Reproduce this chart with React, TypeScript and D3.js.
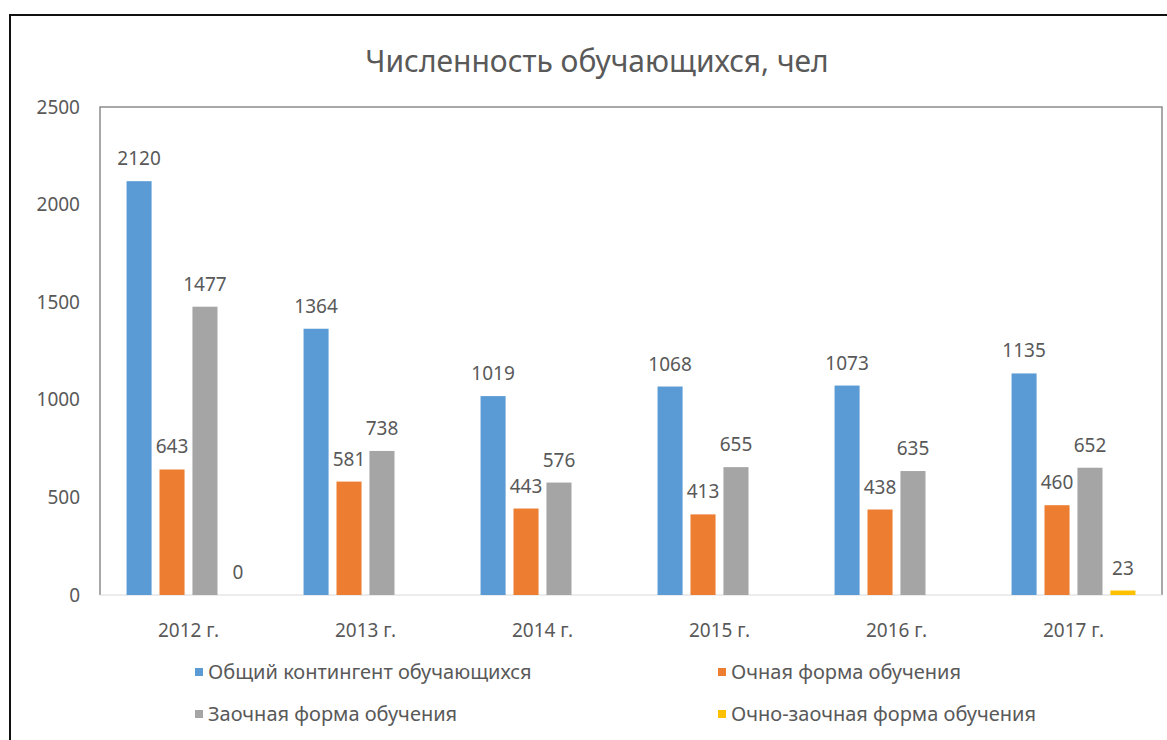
import * as d3 from 'd3'

const categories = ['2012 г.', '2013 г.', '2014 г.', '2015 г.', '2016 г.', '2017 г.']
const seriesNames = [
  'Общий контингент обучающихся',
  'Очная форма обучения',
  'Заочная форма обучения',
  'Очно-заочная форма обучения',
]
const totalValues = [2120, 1364, 1019, 1068, 1073, 1135]
const fullTimeValues = [643, 581, 443, 413, 438, 460]
const extramuralValues = [1477, 738, 576, 655, 635, 652]
const partTimeValues = [0, null, null, null, null, 23]
const yTicks = [0, 500, 1000, 1500, 2000, 2500]

const colors = ['#5b9bd5', '#ed7d31', '#a5a5a5', '#ffc000']
const seriesValues = [totalValues, fullTimeValues, extramuralValues, partTimeValues]

const W = 1167
const H = 740
const plot = { left: 100, right: 1162, top: 107, bottom: 595 }
const font = '"Noto Sans", "Open Sans", sans-serif'
const textColor = '#595959'

export default function App() {
  const x0 = d3.scaleBand<string>()
    .domain(categories)
    .range([plot.left, plot.right])
    .paddingInner(0.3)
    .paddingOuter(0.15)

  const x1 = d3.scaleBand<string>()
    .domain(seriesNames)
    .range([0, x0.bandwidth()])
    .paddingInner(0.24)

  const y = d3.scaleLinear()
    .domain([0, 2500])
    .range([plot.bottom, plot.top])

  return (
    <svg width={W} height={H} style={{ position: 'absolute', left: 0, top: 0, background: '#fff' }}>
      {/* outer frame */}
      <rect x={10} y={15} width={W} height={H} fill="#fff" stroke="#111" strokeWidth={2} />

      <text x={597} y={72} textAnchor="middle" fontFamily={font} fontSize={30} fill={textColor}>
        Численность обучающихся, чел
      </text>

      {/* plot area border */}
      <path
        d={`M${plot.left},${plot.bottom}V${plot.top}H${plot.right}V${plot.bottom}`}
        fill="none"
        stroke="#8c8c8c"
        strokeWidth={1.5}
      />
      <line x1={plot.left} x2={plot.right} y1={plot.bottom} y2={plot.bottom} stroke="#d9d9d9" strokeWidth={1} />

      {/* y axis labels */}
      {yTicks.map(t => (
        <text key={t} x={80} y={y(t)} dy="0.35em" textAnchor="end" fontFamily={font} fontSize={19} fill={textColor}>
          {t}
        </text>
      ))}

      {/* bars */}
      {categories.map((cat, ci) => (
        <g key={cat} transform={`translate(${x0(cat)},0)`}>
          {seriesNames.map((s, si) => {
            const v = seriesValues[si][ci]
            if (v === null || v === undefined) return null
            const bx = x1(s) as number
            const bw = x1.bandwidth()
            return (
              <g key={s}>
                <rect x={bx} y={y(v)} width={bw} height={Math.max(0, plot.bottom - y(v))} fill={colors[si]} />
                <text
                  x={bx + bw / 2}
                  y={y(v) - 16}
                  textAnchor="middle"
                  fontFamily={font}
                  fontSize={19}
                  fill={textColor}
                >
                  {v}
                </text>
              </g>
            )
          })}
        </g>
      ))}

      {/* x axis labels */}
      {categories.map(cat => (
        <text
          key={cat}
          x={(x0(cat) as number) + x0.bandwidth() / 2}
          y={637}
          textAnchor="middle"
          fontFamily={font}
          fontSize={19}
          fill={textColor}
        >
          {cat}
        </text>
      ))}

      {/* legend */}
      {seriesNames.map((s, i) => {
        const lx = i % 2 === 0 ? 195 : 718
        const ly = i < 2 ? 672 : 714
        return (
          <g key={s} transform={`translate(${lx},${ly})`}>
            <rect x={0} y={-4} width={8} height={8} fill={colors[i]} />
            <text x={13} y={0} dy="0.35em" fontFamily={font} fontSize={20} fill={textColor}>
              {s}
            </text>
          </g>
        )
      })}
    </svg>
  )
}
